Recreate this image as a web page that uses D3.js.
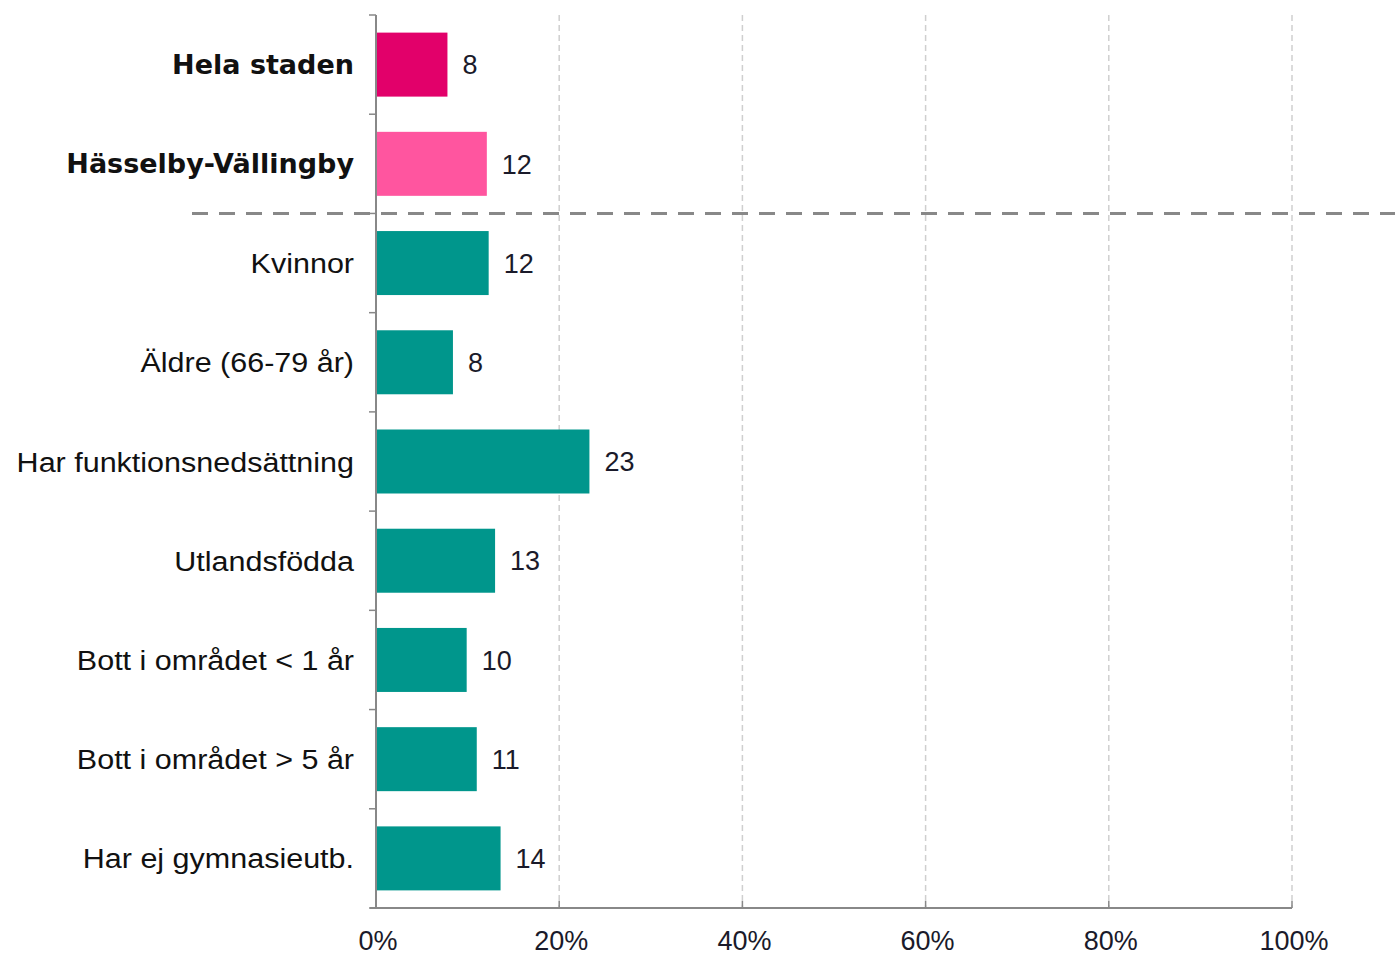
<!DOCTYPE html>
<html><head><meta charset="utf-8">
<script src="https://cdn.jsdelivr.net/npm/d3@7"></script>
<style>body{margin:0;background:#fff}svg{display:block}</style>
</head><body>
<svg id="c" width="1395" height="957"></svg>
<script>
const categories = ["Hela staden","Hässelby-Vällingby","Kvinnor","Äldre (66-79 år)","Har funktionsnedsättning","Utlandsfödda","Bott i området < 1 år","Bott i området > 5 år","Har ej gymnasieutb."];
const values = [7.8,12.1,12.3,8.4,23.3,13.0,9.9,11.0,13.6];
const boldCats = ["Hela staden","Hässelby-Vällingby"];
const barColors = ["#e2006a","#ff559f","#00968c","#00968c","#00968c","#00968c","#00968c","#00968c","#00968c"];
const xTicks = [0,20,40,60,80,100];

(function(){
const svg = d3.select("#c");
const pL = 376, pR = 1292, pT = 15, pB = 908;
const x = d3.scaleLinear().domain([0,100]).range([pL,pR]);
const y = d3.scaleBand().domain(categories).range([pT,pB]).paddingInner(0.355).paddingOuter(0.1775);
const step = y.step();

// gridlines
svg.append("g").selectAll("line").data(xTicks.slice(1)).join("line")
  .attr("x1",d=>x(d)).attr("x2",d=>x(d)).attr("y1",pT).attr("y2",pB)
  .attr("stroke","#cfcfcf").attr("stroke-width",1.5).attr("stroke-dasharray","6,4");

// bars
svg.append("g").selectAll("rect").data(categories).join("rect")
  .attr("x",x(0)).attr("y",d=>y(d)).attr("height",y.bandwidth())
  .attr("width",(d,i)=>x(values[i])-x(0)).attr("fill",(d,i)=>barColors[i]);

// value labels
svg.append("g").selectAll("text").data(categories).join("text")
  .attr("x",(d,i)=>x(values[i])+15).attr("y",d=>y(d)+y.bandwidth()/2)
  .attr("dy","0.36em").attr("font-family","Liberation Sans, Arial, sans-serif")
  .attr("font-size",27).attr("fill","#1a1a2a").text((d,i)=>d3.format(".0f")(values[i]));

// y axis
const yAxis = svg.append("g");
yAxis.append("line").attr("x1",pL).attr("x2",pL).attr("y1",pT).attr("y2",pB)
  .attr("stroke","#888").attr("stroke-width",2);
yAxis.selectAll("line.t").data(d3.range(categories.length+1)).join("line").attr("class","t")
  .attr("x1",pL-7).attr("x2",pL).attr("y1",i=>pT+i*step).attr("y2",i=>pT+i*step)
  .attr("stroke","#888").attr("stroke-width",1.5);
yAxis.selectAll("text").data(categories).join("text")
  .attr("transform",d=>`translate(${pL-22},${y(d)+y.bandwidth()/2}) scale(${boldCats.includes(d)?1.02:1.09},1)`)
  .attr("text-anchor","end").attr("dy","0.36em")
  .attr("font-family",d=>boldCats.includes(d)?"DejaVu Sans, Verdana, sans-serif":"Liberation Sans, Arial, sans-serif")
  .attr("font-weight",d=>boldCats.includes(d)?"bold":"normal")
  .attr("font-size",d=>boldCats.includes(d)?26.5:28)
  .attr("fill","#111").text(d=>d);

// x axis
const xAxis = svg.append("g");
xAxis.append("line").attr("x1",pL-6).attr("x2",pR).attr("y1",pB).attr("y2",pB)
  .attr("stroke","#888").attr("stroke-width",2);
xAxis.selectAll("line.t").data(xTicks).join("line").attr("class","t")
  .attr("x1",d=>x(d)).attr("x2",d=>x(d)).attr("y1",pB-7).attr("y2",pB)
  .attr("stroke","#888").attr("stroke-width",1.5);
xAxis.selectAll("text").data(xTicks).join("text")
  .attr("x",d=>x(d)+2).attr("y",950).attr("text-anchor","middle")
  .attr("font-family","Liberation Sans, Arial, sans-serif").attr("font-size",27)
  .attr("fill","#1a1a2a").text(d=>d+"%");

// separator
svg.append("line").attr("x1",192).attr("x2",1395)
  .attr("y1",pT+2*step).attr("y2",pT+2*step)
  .attr("stroke","#888").attr("stroke-width",3).attr("stroke-dasharray","16,11");
})();
</script>
</body></html>
